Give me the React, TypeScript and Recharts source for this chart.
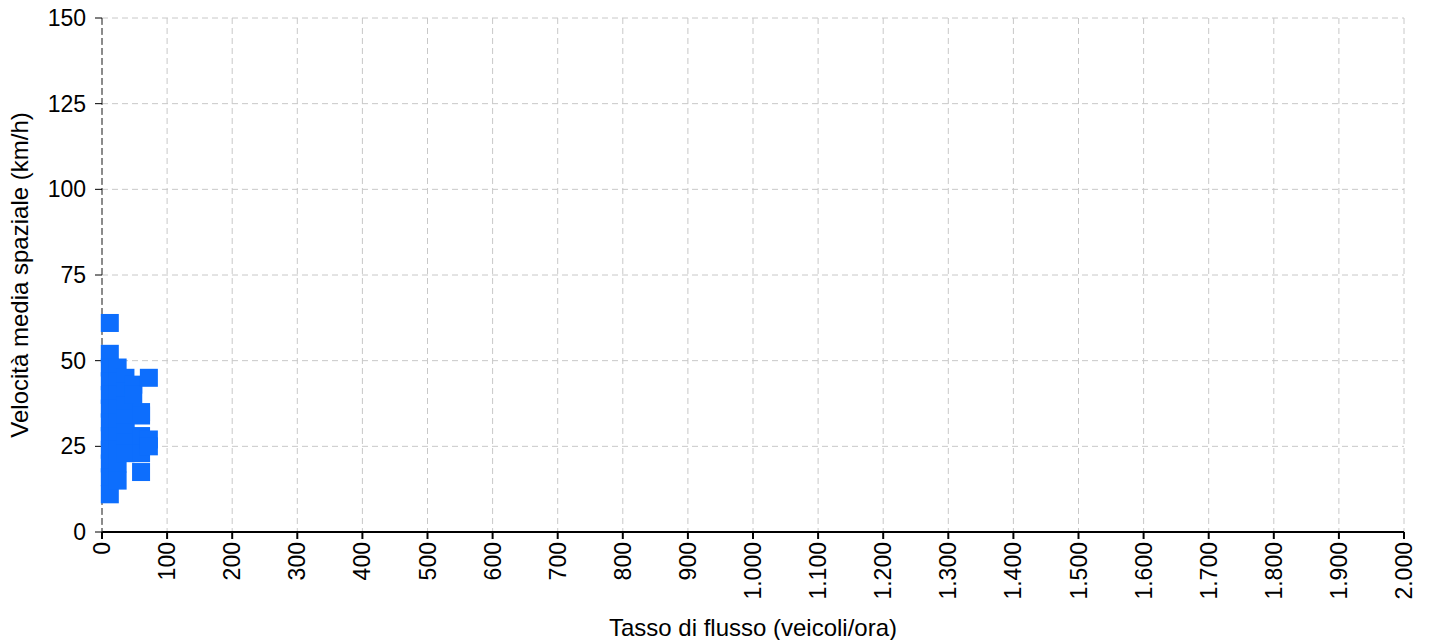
import { ScatterChart, Scatter, XAxis, YAxis, CartesianGrid, Label, Customized } from 'recharts'

const flowValues = [12, 12, 12, 12, 12, 12, 12, 12, 12, 12, 12, 12,
  24, 24, 24, 24, 24, 24, 24, 24, 24,
  36, 36, 36, 36, 36, 36, 36,
  48, 48,
  60, 60, 60, 60, 60,
  72, 72, 72]
const speedValues = [61, 52, 48, 44, 40, 36, 32, 28, 24, 20, 16, 11,
  48, 44, 40, 36, 32, 28, 24, 20, 15,
  45, 41, 37, 33, 29, 26, 23,
  43, 40,
  35, 34, 28, 23, 17.5,
  45, 27, 25]

const xTicks = [0, 100, 200, 300, 400, 500, 600, 700, 800, 900, 1000, 1100, 1200, 1300, 1400, 1500, 1600, 1700, 1800, 1900, 2000]
const yTicks = [0, 25, 50, 75, 100, 125, 150]

const seriesName = 'Osservazioni'
const font = '"Liberation Sans", Arial, sans-serif'
const blue = '#0d6efd'

const points = flowValues.map((f, i) => ({ flow: f, speed: speedValues[i] }))

const fmt = (v: number) => String(v).replace(/\B(?=(\d{3})+(?!\d))/g, '.')

const XTick = (props: any) => {
  const { x, y, payload } = props
  return (
    <text
      x={x}
      y={y}
      transform={`rotate(-90, ${x}, ${y})`}
      textAnchor="end"
      dominantBaseline="central"
      fontSize={23}
      fontFamily={font}
      fill="#000"
    >
      {fmt(payload.value)}
    </text>
  )
}

// square marker, 18px side
const SquareDot = (props: any) => {
  const { cx, cy } = props
  return <rect x={cx - 9} y={cy - 9} width={18} height={18} fill={blue} />
}

// legend box sits above the chart, only its bottom edge shows
const LegendBox = () => (
  <g>
    <rect x={518} y={-40} width={346} height={42} fill="#fff" stroke="#000" strokeWidth={3} />
    <rect x={620} y={-26} width={14} height={14} fill={blue} />
    <text x={642} y={-19} dominantBaseline="central" fontSize={20} fontFamily={font}>
      {seriesName}
    </text>
  </g>
)

export default function App() {
  return (
    <div style={{ width: 1427, height: 640, marginTop: -8 }}>
      <ScatterChart width={1427} height={640} margin={{ top: 18, right: 31, left: 0, bottom: 0 }}>
        <CartesianGrid stroke="#c8c8c8" strokeDasharray="6 4" />
        <XAxis
          type="number"
          dataKey="flow"
          domain={[0, 2000]}
          ticks={xTicks}
          interval={0}
          height={108}
          stroke="#000"
          strokeWidth={2}
          tickSize={7}
          tickMargin={3}
          tick={<XTick />}
        >
          <Label
            content={(p: any) => {
              const vb = p.viewBox
              return (
                <text
                  x={vb.x + vb.width / 2}
                  y={vb.y + vb.height - 13}
                  textAnchor="middle"
                  dominantBaseline="central"
                  fontSize={24}
                  fontFamily={font}
                  fill="#000"
                >
                  Tasso di flusso (veicoli/ora)
                </text>
              )
            }}
          />
        </XAxis>
        <YAxis
          type="number"
          dataKey="speed"
          domain={[0, 150]}
          ticks={yTicks}
          interval={0}
          width={94}
          axisLine={{ stroke: '#333', strokeDasharray: '7 3' }}
          tickLine={{ stroke: '#000' }}
          tickSize={7}
          tickMargin={9}
          tick={{ fontSize: 23, fontFamily: font, fill: '#000' }}
        >
          <Label
            content={(p: any) => {
              const vb = p.viewBox
              const cx = 11
              const cy = vb.y + vb.height / 2
              return (
                <text
                  x={cx}
                  y={cy}
                  transform={`rotate(-90, ${cx}, ${cy})`}
                  textAnchor="middle"
                  dominantBaseline="central"
                  fontSize={24}
                  fontFamily={font}
                  fill="#000"
                >
                  Velocità media spaziale (km/h)
                </text>
              )
            }}
          />
        </YAxis>
        <Scatter
          name={seriesName}
          data={points}
          fill={blue}
          shape={<SquareDot />}
          isAnimationActive={false}
        />
        <Customized component={<LegendBox />} />
      </ScatterChart>
    </div>
  )
}
